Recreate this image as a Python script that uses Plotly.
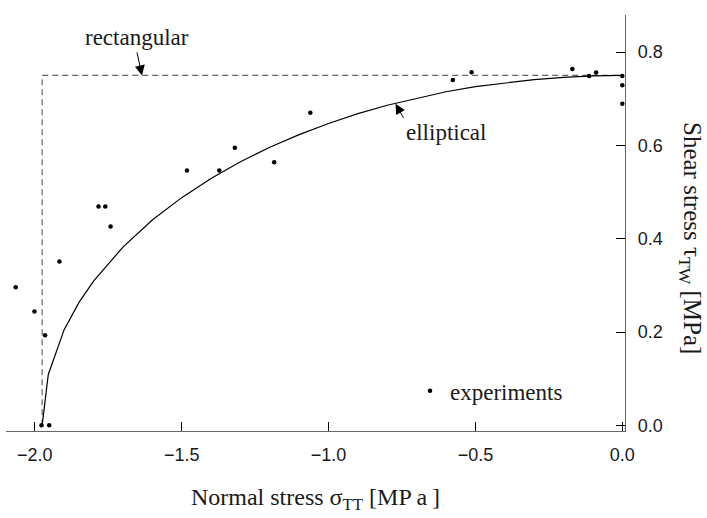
import plotly.graph_objects as go

# Experimental data (normal stress sigma_TT, shear stress tau_TW) in MPa
exp_sigma = [-2.065, -2.001, -1.965, -1.977, -1.951, -1.916, -1.783, -1.760, -1.742,
             -1.482, -1.372, -1.319, -1.185, -1.062, -0.577, -0.513, -0.170,
             -0.113, -0.089, 0.0, 0.0, 0.0]
exp_tau = [0.296, 0.244, 0.193, 0.0, 0.0, 0.351, 0.469, 0.469, 0.426,
           0.546, 0.546, 0.595, 0.564, 0.670, 0.740, 0.757, 0.764,
           0.749, 0.756, 0.749, 0.729, 0.689]

# Elliptical failure envelope
ell_sigma = [-1.975, -1.954, -1.9, -1.85, -1.8, -1.7, -1.6, -1.5, -1.4, -1.3, -1.2,
             -1.1, -1.0, -0.9, -0.8, -0.7, -0.6, -0.5, -0.4, -0.3, -0.2, -0.1, 0.0]
ell_tau = [0.0, 0.109, 0.205, 0.263, 0.309, 0.382, 0.440, 0.488, 0.529, 0.565, 0.596,
           0.623, 0.647, 0.668, 0.686, 0.701, 0.715, 0.726, 0.734, 0.741, 0.746, 0.749, 0.75]

# Rectangular failure envelope
rect_sigma = [-1.975, -1.975, 0.0]
rect_tau = [0.0, 0.75, 0.75]

x_ticks = [-2.0, -1.5, -1.0, -0.5, 0.0]
y_ticks = [0.0, 0.2, 0.4, 0.6, 0.8]

serif = "Liberation Serif, Times New Roman, serif"
sans = "Liberation Sans, Arial, sans-serif"
ink = "#1a1a1a"

fig = go.Figure()
fig.add_trace(go.Scatter(x=rect_sigma, y=rect_tau, mode="lines",
                         line=dict(color="#666666", width=1.2, dash="6px,4px"),
                         showlegend=False, hoverinfo="skip"))
fig.add_trace(go.Scatter(x=ell_sigma, y=ell_tau, mode="lines",
                         line=dict(color="black", width=1.2),
                         showlegend=False))
fig.add_trace(go.Scatter(x=exp_sigma, y=exp_tau, mode="markers", name="experiments",
                         marker=dict(color="black", size=4.5),
                         cliponaxis=False, showlegend=True))

fig.update_layout(
    width=707, height=518,
    margin=dict(l=6, r=82, t=15, b=87),
    plot_bgcolor="white", paper_bgcolor="white",
    font=dict(family=sans, size=18, color=ink),
    showlegend=True,
    legend=dict(x=(410 - 6) / 619, xanchor="left", y=(431 - 390.7) / 416, yanchor="middle",
                bgcolor="rgba(0,0,0,0)", font=dict(family=serif, size=23, color=ink),
                itemwidth=30),
    xaxis=dict(range=[-2.098, 0.0092], tickvals=x_ticks, tickformat=".1f",
               showgrid=False, zeroline=False, showline=True, linecolor="#666666", linewidth=1.3,
               ticks="inside", ticklen=9, tickcolor="black", tickwidth=1,
               ticklabelstandoff=7,
               tickfont=dict(family=sans, size=18, color=ink),
               title=dict(text="Normal stress σ<sub>TT</sub> [MP\u2009a\u2009]",
                          font=dict(family=serif, size=24, color=ink), standoff=24)),
    yaxis=dict(range=[-0.0122, 0.8795], tickvals=y_ticks, tickformat=".1f", side="right",
               showgrid=False, zeroline=False, showline=True, linecolor="#666666", linewidth=1.3,
               ticks="inside", ticklen=9, tickcolor="black", tickwidth=1,
               ticklabelstandoff=8,
               tickfont=dict(family=sans, size=18, color=ink)),
)

fig.add_annotation(xref="paper", yref="paper", x=(691 - 6) / 619, y=(431 - 238) / 416,
                   text="Shear stress τ<sub>TW</sub> [MPa]", textangle=90, showarrow=False,
                   font=dict(family=serif, size=25, color=ink),
                   xanchor="center", yanchor="middle")

fig.add_annotation(x=-1.635, y=0.75, text="rectangular", showarrow=True,
                   ax=-5, ay=-23, xanchor="center", yanchor="bottom",
                   arrowhead=2, arrowsize=2, arrowwidth=1, arrowcolor="black",
                   font=dict(family=serif, size=23, color=ink))
fig.add_annotation(x=-0.772, y=0.689, text="elliptical", showarrow=True,
                   ax=8, ay=14, xanchor="left", yanchor="top",
                   arrowhead=2, arrowsize=2, arrowwidth=1, arrowcolor="black",
                   font=dict(family=serif, size=23, color=ink))

fig.write_html("out.html")
